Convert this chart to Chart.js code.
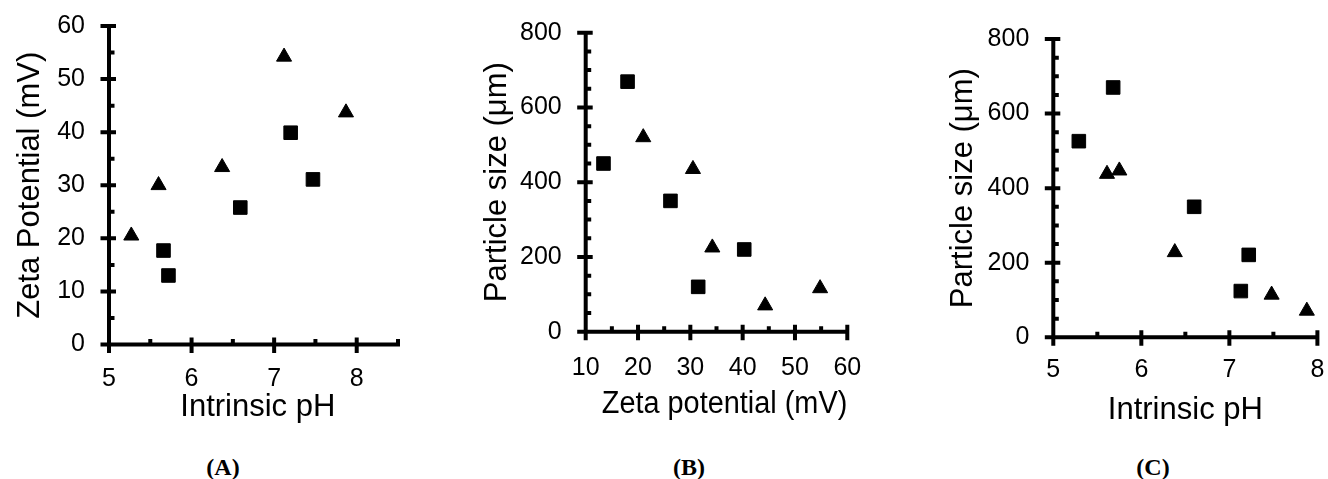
<!DOCTYPE html>
<html>
<head>
<meta charset="utf-8">
<script src="https://cdn.jsdelivr.net/npm/chart.js@4/dist/chart.umd.min.js"></script>
<style>
  body { margin: 0; background: #fff; }
  #wrap { position: relative; width: 1328px; height: 479px; overflow: hidden; background: #fff; }
  #wrap canvas { position: absolute; top: 0; }
  .panel-lbl {
    position: absolute; top: 455px; transform: translateX(-50%);
    font: bold 24px 'Liberation Serif', 'Times New Roman', serif; line-height: 24px; color: #000;
  }
</style>
</head>
<body>
<div id="wrap">
  <canvas id="chartA" width="440" height="440" style="left:0"></canvas>
  <canvas id="chartB" width="440" height="440" style="left:440px"></canvas>
  <canvas id="chartC" width="448" height="440" style="left:880px"></canvas>
  <div class="panel-lbl" style="left:223px">(A)</div>
  <div class="panel-lbl" style="left:689px">(B)</div>
  <div class="panel-lbl" style="left:1153px">(C)</div>
</div>
<script>
'use strict';

// ---- data ----
// (A) intrinsic pH vs zeta potential
const phA_squares = [5.66, 5.72, 6.59, 7.20, 7.47];
const zetaA_squares = [17.7, 13.0, 25.8, 39.9, 31.1];
const phA_triangles = [5.27, 5.60, 6.37, 7.12, 7.87];
const zetaA_triangles = [20.5, 30.0, 33.4, 54.2, 43.7];

// (B) zeta potential vs particle size
const zetaB_squares = [13.4, 18.0, 26.2, 31.5, 40.3];
const sizeB_squares = [450, 669, 350, 120, 220];
const zetaB_triangles = [21.0, 30.5, 34.2, 44.3, 54.8];
const sizeB_triangles = [520, 435, 225, 70, 116];

// (C) intrinsic pH vs particle size
const phC_squares = [5.29, 5.68, 6.60, 7.13, 7.22];
const sizeC_squares = [526, 670, 350, 124, 221];
const phC_triangles = [5.61, 5.75, 6.38, 7.48, 7.88];
const sizeC_triangles = [438, 447, 228, 114, 71];

// tick labels
const phTicksA = [5, 6, 7, 8];
const zetaTicks = [0, 10, 20, 30, 40, 50, 60];
const zetaXTicks = [10, 20, 30, 40, 50, 60];
const sizeTicks = [0, 200, 400, 600, 800];
const phTicksC = [5, 6, 7, 8];

const SANS = "'Liberation Sans', Arial, sans-serif";
Chart.defaults.font.family = SANS;
Chart.defaults.color = '#000';

function pts(xs, ys) {
  return xs.map((v, i) => ({ x: v, y: ys[i] }));
}

// axis lines with crossing major ticks and inward minor ticks
const axisDecor = {
  id: 'axisDecor',
  afterDatasetsDraw(chart, args, o) {
    const { ctx } = chart;
    const xs = chart.scales.x, ys = chart.scales.y;
    const ax = xs.getPixelForValue(xs.min);
    const ay = ys.getPixelForValue(ys.min);
    ctx.save();
    ctx.strokeStyle = '#000';
    ctx.lineWidth = 4;
    ctx.beginPath();
    ctx.moveTo(ax - 2, ay); ctx.lineTo(xs.getPixelForValue(xs.max) + 2, ay);
    ctx.moveTo(ax, ay + 2); ctx.lineTo(ax, ys.getPixelForValue(ys.max) - 2);
    for (let v = xs.min; v <= xs.max + 1e-9; v += o.xMinor) {
      const p = xs.getPixelForValue(v);
      const major = Math.abs(v / o.xMajor - Math.round(v / o.xMajor)) < 1e-6;
      if (major) { ctx.moveTo(p, ay - 7); ctx.lineTo(p, ay + 8.5); }
      else { ctx.moveTo(p, ay); ctx.lineTo(p, ay - 5.5); }
    }
    for (let v = ys.min; v <= ys.max + 1e-9; v += o.yMinor) {
      const p = ys.getPixelForValue(v);
      const major = Math.abs(v / o.yMajor - Math.round(v / o.yMajor)) < 1e-6;
      if (major) { ctx.moveTo(ax - 8.5, p); ctx.lineTo(ax + 7, p); }
      else { ctx.moveTo(ax, p); ctx.lineTo(ax + 5.5, p); }
    }
    ctx.stroke();
    ctx.restore();
  }
};

// invisible tick marks only used as label spacing
function gapGrid(len) {
  return { display: true, drawOnChartArea: false, drawTicks: true, tickLength: len,
           color: 'rgba(0,0,0,0)', tickColor: 'rgba(0,0,0,0)' };
}

function makeChart(id, c) {
  const marker = (data, style, r) => ({
    data, pointStyle: style, pointRadius: r, pointHoverRadius: r,
    backgroundColor: '#000', borderColor: '#000', borderWidth: 1
  });
  return new Chart(document.getElementById(id), {
    type: 'scatter',
    data: {
      datasets: [
        marker(c.squares, 'rect', 9.6),
        marker(c.triangles, 'triangle', 8.7)
      ]
    },
    plugins: [axisDecor],
    options: {
      responsive: false,
      animation: false,
      events: [],
      layout: { padding: c.pad },
      plugins: {
        legend: { display: false },
        tooltip: { enabled: false },
        axisDecor: c.decor
      },
      scales: {
        x: {
          type: 'linear', position: 'bottom',
          min: c.xMin, max: c.xMax,
          afterFit: s => { s.height = c.xH; },
          afterBuildTicks: s => { s.ticks = c.xTicks.map(v => ({ value: v })); },
          grid: gapGrid(c.xTickGap), border: { display: false },
          ticks: { padding: 0, maxRotation: 0, autoSkip: false, color: '#000', font: { size: 25 } },
          title: { display: true, text: c.xTitle, color: '#000', font: { size: 31, lineHeight: 1 },
                   padding: { top: 0, bottom: c.xTitlePad } }
        },
        y: {
          type: 'linear', position: 'left',
          min: c.yMin, max: c.yMax,
          afterFit: s => { s.width = c.yW; },
          afterBuildTicks: s => { s.ticks = c.yTicks.map(v => ({ value: v })); },
          grid: gapGrid(24), border: { display: false },
          ticks: { padding: 0, autoSkip: false, color: '#000', font: { size: 25 } },
          title: { display: true, text: c.yTitle, color: '#000', font: { size: 31, lineHeight: 1 },
                   padding: { top: c.yTitlePad, bottom: 0 } }
        }
      }
    }
  });
}

makeChart('chartA', {
  squares: pts(phA_squares, zetaA_squares),
  triangles: pts(phA_triangles, zetaA_triangles),
  xMin: 5, xMax: 8.5, yMin: 0, yMax: 60,
  xTicks: phTicksA, yTicks: zetaTicks,
  xTitle: ' Intrinsic pH', yTitle: 'Zeta Potential (mV)',
  pad: { left: 0, top: 26, right: 42, bottom: 0 },
  yW: 109, xH: 95.5, xTickGap: 20, xTitlePad: 17, yTitlePad: 14.5,
  decor: { xMajor: 1, xMinor: 0.5, yMajor: 10, yMinor: 5 }
});

makeChart('chartB', {
  squares: pts(zetaB_squares, sizeB_squares),
  triangles: pts(zetaB_triangles, sizeB_triangles),
  xMin: 10, xMax: 60, yMin: 0, yMax: 800,
  xTicks: zetaXTicks, yTicks: sizeTicks,
  xTitle: '  Zeta potential (mV)', yTitle: 'Particle size (\u03bcm)',
  pad: { left: 0, top: 32.7, right: 32.7, bottom: 0 },
  yW: 145.7, xH: 108.3, xTickGap: 21.5, xTitlePad: 20.5, yTitlePad: 41.5,
  decor: { xMajor: 10, xMinor: 5, yMajor: 200, yMinor: 50 }
});

makeChart('chartC', {
  squares: pts(phC_squares, sizeC_squares),
  triangles: pts(phC_triangles, sizeC_triangles),
  xMin: 5, xMax: 8, yMin: 0, yMax: 800,
  xTicks: phTicksC, yTicks: sizeTicks,
  xTitle: 'Intrinsic pH', yTitle: 'Particle size (\u03bcm)',
  pad: { left: 0, top: 39, right: 8, bottom: 0 },
  yW: 173.3, xH: 102.7, xTickGap: 18, xTitlePad: 14, yTitlePad: 67.5,
  decor: { xMajor: 1, xMinor: 0.5, yMajor: 200, yMinor: 50 }
});
</script>
</body>
</html>
